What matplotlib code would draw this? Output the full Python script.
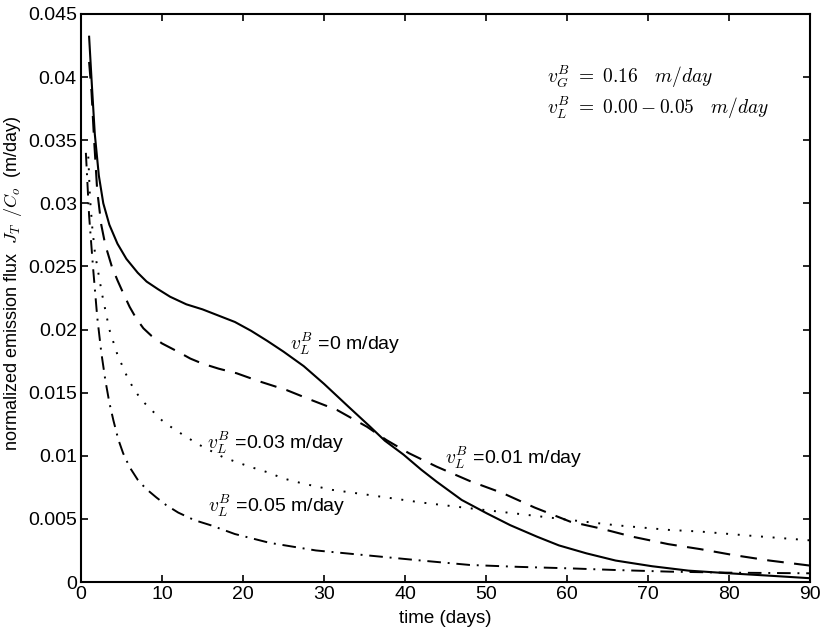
import matplotlib
matplotlib.use("Agg")
import matplotlib.pyplot as plt

# v_L^B = 0 m/day (solid)
days_0 = [1.0, 1.3, 1.7, 2.2, 2.75, 3.5, 4.5, 5.6, 7.0, 8.1, 9.5, 11.0, 13.0, 15.0, 17.0,
          19.0, 21.0, 23.0, 25.0, 27.5, 30.0, 33.0, 35.7, 37.5, 39.8, 42.0, 43.9, 47.0,
          50.1, 53.0, 56.3, 59.0, 62.4, 66.0, 70.5, 75.0, 80.0, 85.0, 90.0]
flux_0 = [0.0432, 0.0398, 0.0355, 0.0322, 0.0300, 0.0283, 0.0268, 0.0256, 0.0245, 0.0238,
          0.0232, 0.0226, 0.0220, 0.0216, 0.0211, 0.0206, 0.0199, 0.0191, 0.01825, 0.0171,
          0.0157, 0.0139, 0.0123, 0.0112, 0.0101, 0.0089, 0.00795, 0.0065, 0.00544, 0.0045,
          0.00359, 0.0029, 0.00227, 0.0017, 0.00125, 0.0009, 0.00069, 0.0005, 0.0003]

# v_L^B = 0.01 m/day (dashed)
days_1 = [1.0, 1.3, 1.6, 2.0, 2.5, 3.0, 3.8, 4.5, 5.2, 6.0, 6.8, 7.7, 8.7, 10.0, 11.8,
          13.5, 15.0, 17.0, 19.2, 22.0, 25.4, 28.5, 31.6, 35.3, 37.7, 40.5, 43.9, 48.0,
          52.1, 56.0, 60.4, 64.1, 68.0, 72.5, 76.5, 80.5, 85.0, 90.0]
flux_1 = [0.0412, 0.0388, 0.0352, 0.0310, 0.0283, 0.0267, 0.0250, 0.0239, 0.0229, 0.0218,
          0.0209, 0.0201, 0.0195, 0.0189, 0.01830, 0.0177, 0.0173, 0.0169, 0.01654, 0.0159,
          0.0152, 0.0144, 0.01363, 0.0123, 0.01125, 0.0102, 0.00914, 0.0080, 0.00703,
          0.0059, 0.00478, 0.00425, 0.0036, 0.0030, 0.0026, 0.00214, 0.0017, 0.0013]

# v_L^B = 0.03 m/day (dotted)
days_3 = [0.9, 1.1, 1.4, 1.7, 2.0, 2.6, 3.5, 4.5, 5.6, 6.5, 7.5, 8.9, 10.0, 11.5, 13.0,
          14.5, 16.0, 17.5, 19.2, 21.0, 23.0, 25.0, 27.4, 31.0, 35.5, 42.0, 48.0, 54.0,
          60.4, 66.0, 72.7, 76.4, 82.0, 90.0]
flux_3 = [0.0337, 0.0305, 0.0280, 0.0262, 0.0250, 0.0228, 0.0200, 0.0180, 0.0164, 0.0153,
          0.0144, 0.0135, 0.0128, 0.0121, 0.0115, 0.0109, 0.0104, 0.0099, 0.0095, 0.0091,
          0.0087, 0.0082, 0.0078, 0.0073, 0.0069, 0.0063, 0.00584, 0.0054, 0.00491, 0.0045,
          0.00412, 0.0040, 0.0037, 0.0033]

# v_L^B = 0.05 m/day (dash-dot)
days_5 = [0.6, 0.8, 1.0, 1.5, 2.0, 2.5, 3.0, 3.5, 4.0, 4.6, 5.2, 6.0, 7.0, 8.0, 9.3, 10.5,
          12.0, 14.0, 16.0, 19.0, 23.3, 29.0, 35.5, 42.0, 48.0, 54.0, 60.4, 66.0, 72.7,
          80.0, 90.0]
flux_5 = [0.0340, 0.0315, 0.0290, 0.0248, 0.0210, 0.0182, 0.0160, 0.0142, 0.0128, 0.0113,
          0.0102, 0.0091, 0.0081, 0.0074, 0.0067, 0.0061, 0.0055, 0.0049, 0.0045, 0.0038,
          0.0031, 0.0025, 0.0021, 0.0017, 0.00135, 0.0012, 0.00108, 0.00095, 0.00082,
          0.00074, 0.00069]

x_ticks = [0, 10, 20, 30, 40, 50, 60, 70, 80, 90]
y_ticks = [0, 0.005, 0.01, 0.015, 0.02, 0.025, 0.03, 0.035, 0.04, 0.045]
y_tick_labels = ["0", "0.005", "0.01", "0.015", "0.02", "0.025", "0.03", "0.035", "0.04", "0.045"]

plt.rcParams["font.family"] = ["Liberation Sans", "DejaVu Sans"]

fig = plt.figure(figsize=(8.25, 6.36), dpi=100)
ax = fig.add_axes([0.0982, 0.0849, 0.8836, 0.8931])

ax.plot(days_0, flux_0, color="black", linestyle="-", linewidth=1.5)
ax.plot(days_1, flux_1, color="black", linestyle=(0, (8, 5)), linewidth=1.5)
ax.plot(days_3, flux_3, color="black", linestyle=(0, (1, 5)), linewidth=1.4)
ax.plot(days_5, flux_5, color="black", linestyle=(0, (7, 3.5, 1, 3.5)), linewidth=1.4)

ax.set_xlim(0, 90)
ax.set_ylim(0, 0.045)
ax.set_xticks(x_ticks)
ax.set_yticks(y_ticks)
ax.set_yticklabels(y_tick_labels)
ax.tick_params(direction="in", length=5, width=1.2, top=True, right=True,
               labelsize=14, pad=3)
for spine in ax.spines.values():
    spine.set_linewidth(1.5)

ax.set_xlabel("time (days)", fontsize=13.5, labelpad=5)
ax.set_ylabel(r"normalized emission flux  $J_T\;\;/C_o$  (m/day)", fontsize=13,
              math_fontfamily="cm")
ax.yaxis.set_label_coords(-0.078, 0.526)

# curve labels
lab = dict(fontsize=14, math_fontfamily="cm", va="center", ha="left")
ax.text(25.8, 0.0189, r"$v_L^B$ =0 m/day", **lab)
ax.text(15.6, 0.0110, r"$v_L^B$ =0.03 m/day", **lab)
ax.text(15.7, 0.0060, r"$v_L^B$ =0.05 m/day", **lab)
ax.text(44.9, 0.0098, r"$v_L^B$ =0.01 m/day", **lab)

# parameter box, top right
ax.text(57.5, 0.0400, r"$v_G^B\ =\ 0.16\quad m/day$", fontsize=14,
        math_fontfamily="cm", va="center", ha="left")
ax.text(57.5, 0.0376, r"$v_L^B\ =\ 0.00-0.05\quad m/day$", fontsize=14,
        math_fontfamily="cm", va="center", ha="left")

fig.savefig("out.png", dpi=100)
